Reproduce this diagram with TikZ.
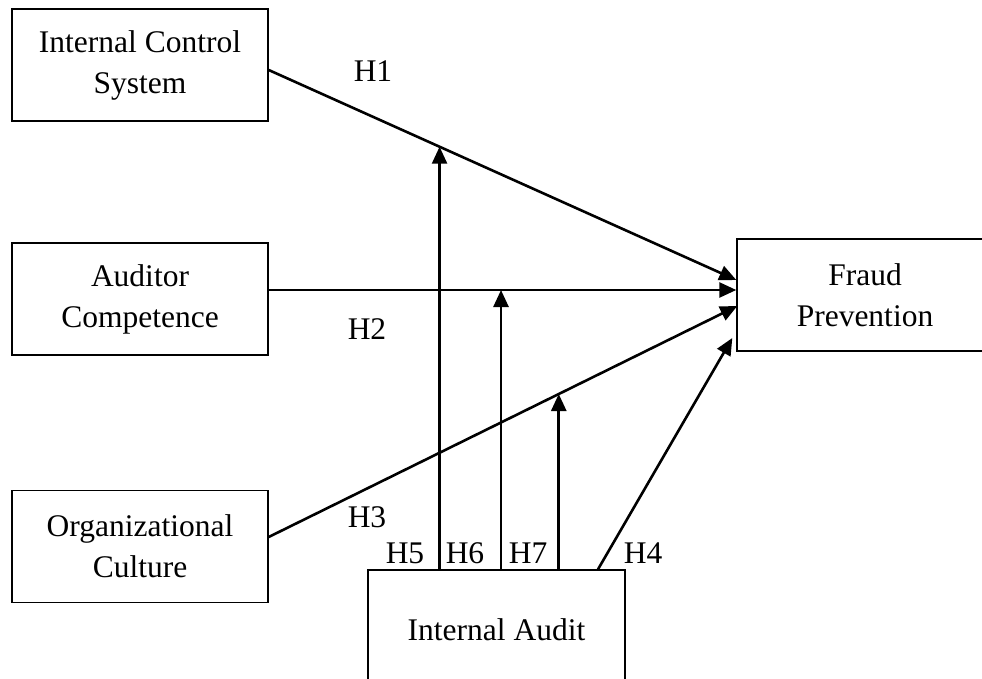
\documentclass[tikz,border=0pt]{standalone}
\usepackage{fontspec}
\setmainfont{Liberation Serif}
\usetikzlibrary{arrows.meta,calc}
\begin{document}
\begin{tikzpicture}[x=1pt,y=1pt,
  box/.style={draw, line width=1.4pt, inner sep=0pt, minimum width=256pt, minimum height=112pt, align=center, font=\fontsize{31.5}{41}\selectfont},
  conn/.style={line width=2.6pt, -{Triangle[length=17pt,width=15pt]}},
  plain/.style={line width=2.6pt},
  lab/.style={anchor=base, inner sep=0pt, font=\fontsize{31.5}{41}\selectfont}]
\useasboundingbox (0,0) rectangle (982,-679);
\node[box] (ics) at (140,-65) {Internal Control\\System};
\node[box] (ac) at (140,-299) {Auditor\\Competence};
\node[box] (oc) at (140,-546.5) {Organizational\\Culture};
\node[box, minimum width=256pt] (fp) at (865,-295) {Fraud\\Prevention};
\node[box, minimum width=257pt, minimum height=120pt] (ia) at (496.5,-630) {Internal Audit};
% endpoints
\coordinate (s1) at ([yshift=-5pt]ics.east);
\coordinate (s2) at ([yshift=9pt]ac.east);
\coordinate (s3) at ([yshift=9.5pt]oc.east);
\coordinate (t1) at ([yshift=15pt]fp.west);
\coordinate (t2) at ([yshift=5pt]fp.west);
\coordinate (t3) at ([shift={(1pt,-11pt)}]fp.west);
\coordinate (t4) at ([shift={(-4pt,-43pt)}]fp.west);
\coordinate (s4) at ([xshift=101.5pt]ia.north);
\draw[conn] (s1) -- (t1);
\draw[conn] (s2) -- (t2);
\draw[conn] (s3) -- (t3);
\draw[conn] (s4) -- (t4);
\coordinate (m5) at ($(s1)!0.3654!(t1)$);
\coordinate (m6) at ([xshift=4.5pt]ia.north |- s2);
\coordinate (m7) at ($(s3)!0.619!(t3)$);
\draw[conn] (ia.north -| m5) -- (m5);
\draw[conn] (ia.north -| m6) -- (m6);
\draw[conn] (ia.north -| m7) -- (m7);
\node[lab] (h1) at (373,-82) {H1};
\node[lab] (h2) at (367,-339) {H2};
\node[lab] (h3) at (367,-527) {H3};
\node[lab] (h5) at (405,-563) {H5};
\node[lab] (h6) at (465,-563) {H6};
\node[lab] (h7) at (528,-563) {H7};
\node[lab] (h4) at (643,-563) {H4};
\end{tikzpicture}
\end{document}
